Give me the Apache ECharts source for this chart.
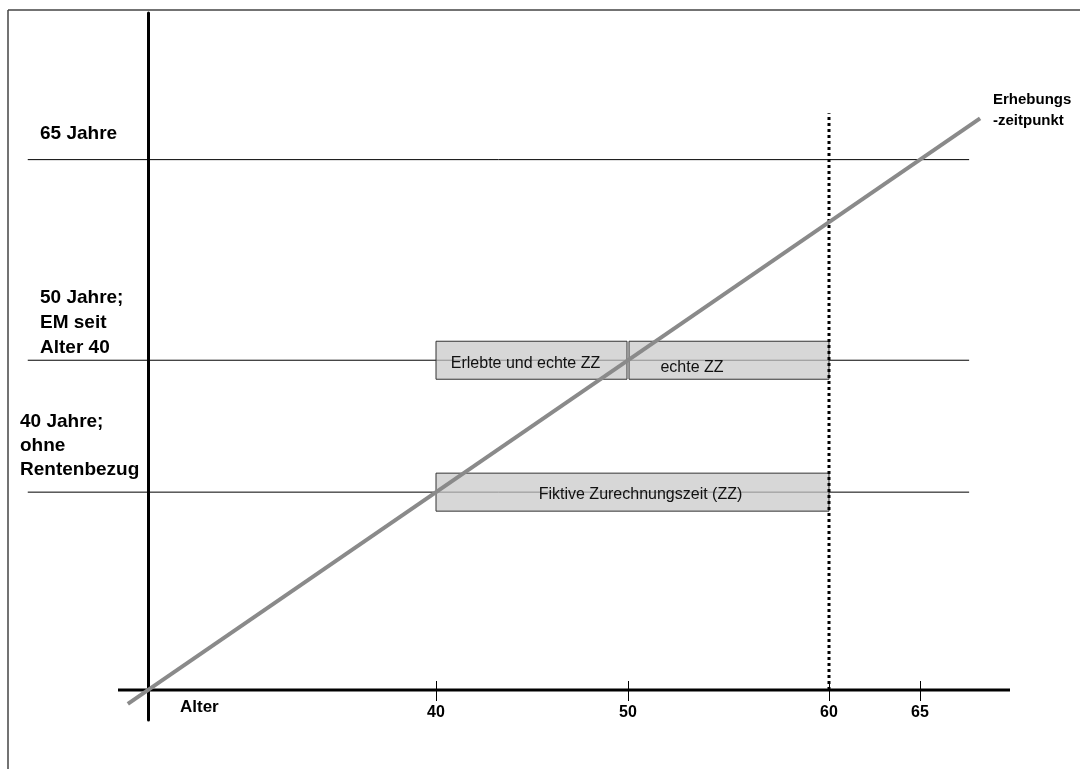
<!DOCTYPE html>
<html><head><meta charset="utf-8">
<script src="https://cdn.jsdelivr.net/npm/echarts@6/dist/echarts.min.js"></script>
<style>html,body{margin:0;padding:0;background:#fff}#c{width:1080px;height:769px}</style>
</head><body><div id="c"></div>
<script>
// ---- data (ages in years) ----
// schematic, non-linear age scale of the diagram: age -> position along axis
const AGE_KNOTS = [0, 40, 50, 60, 65];
const POS_KNOTS = [0, 288, 480, 681, 772];

const tickAges = [40, 50, 60, 65];
const tickLabels = ['40', '50', '60', '65'];
const rowAges = [65, 50, 40];
const rowLabels = ['65 Jahre', '50 Jahre;\nEM seit\nAlter 40', '40 Jahre;\nohne\nRentenbezug'];
const boxStart = [40, 50, 40];
const boxEnd = [50, 60, 60];
const boxRow = [50, 50, 40];
const boxLabels = ['Erlebte und echte ZZ', 'echte ZZ', 'Fiktive Zurechnungszeit (ZZ)'];
const surveyAge = 60;
const surveyLineTopAge = 68.7;
const surveyLabel = 'Erhebungs\n-zeitpunkt';
const diagonalAges = [-2.8, 68.3];
const rowLineAges = [-16.7, 67.7];
const axisName = 'Alter';

// ---- scale helper ----
function toPos(a) {
  const n = AGE_KNOTS.length;
  let i = 0;
  if (a >= AGE_KNOTS[n - 1]) i = n - 2;
  else if (a > AGE_KNOTS[0]) { while (a > AGE_KNOTS[i + 1]) i++; }
  const t = (a - AGE_KNOTS[i]) / (AGE_KNOTS[i + 1] - AGE_KNOTS[i]);
  return POS_KNOTS[i] + t * (POS_KNOTS[i + 1] - POS_KNOTS[i]);
}

// ---- layout / style ----
const Y_RATIO = 0.687;
const X_MIN = -128, X_MAX = 862;          // grid spans pixel 20 .. 1010
const X_AXIS_FROM = -30;                  // visible x-axis line starts here
const Y_MIN = -30 / Y_RATIO, Y_MAX = 677 / Y_RATIO;
const FONT = 'Liberation Sans, Arial, sans-serif';
const boxLabelDx = [-6, -37, 8];
const boxLabelDy = [3, 7, 2];

const tickPos = tickAges.map(toPos);
const labelMap = {};
tickPos.forEach((p, i) => { labelMap[Math.round(p * 100)] = tickLabels[i]; });

const chart = echarts.init(document.getElementById('c'), null, { renderer: 'canvas' });

const rowSeries = rowAges.map(r => ({
  type: 'line', silent: true, clip: false, symbol: 'none', z: 1,
  data: rowLineAges.map(a => [toPos(a), toPos(r)]),
  lineStyle: { color: '#000', width: 1 }
}));

const option = {
  backgroundColor: '#fff',
  animation: false,
  grid: { left: 20, right: 70, top: 13, bottom: 49, containLabel: false, outerBoundsMode: 'none' },
  xAxis: [{
    type: 'value', min: X_MIN, max: X_MAX, position: 'bottom',
    axisLine: { show: true, onZero: true, onZeroAxisIndex: 0, lineStyle: { color: '#000', width: 3, opacity: 0 } },
    axisTick: { show: true, customValues: tickPos, length: 11, lineStyle: { color: '#000', width: 1 } },
    axisLabel: {
      show: true, customValues: tickPos, margin: -15,
      fontFamily: FONT, fontSize: 16, fontWeight: 'bold', color: '#000',
      formatter: v => labelMap[Math.round(v * 100)] || ''
    },
    splitLine: { show: false }
  }, {
    type: 'value', min: X_MIN, max: X_MAX, position: 'top',
    axisLine: { show: true, onZero: true, onZeroAxisIndex: 0, lineStyle: { color: '#000', width: 3, opacity: 0 } },
    axisTick: { show: true, customValues: tickPos, length: 9, lineStyle: { color: '#000', width: 1 } },
    axisLabel: { show: false },
    splitLine: { show: false }
  }],
  yAxis: {
    type: 'value', min: Y_MIN, max: Y_MAX,
    axisLine: { show: true, onZero: true, onZeroAxisIndex: 0, lineStyle: { color: '#000', width: 3 } },
    axisTick: { show: false }, axisLabel: { show: false }, splitLine: { show: false }
  },
  series: [
    ...rowSeries,
    {
      type: 'line', silent: true, clip: false, symbol: 'none', z: 1,
      data: [[X_AXIS_FROM, 0], [X_MAX, 0]],
      lineStyle: { color: '#000', width: 3 }
    },
    {
      type: 'custom', silent: true, z: 2,
      data: boxLabels.map((l, i) => [boxStart[i], boxEnd[i], boxRow[i], i]),
      renderItem: (params, api) => {
        const s = api.value(0), e = api.value(1), r = api.value(2), i = api.value(3);
        const p1 = api.coord([toPos(s), toPos(r)]);
        const p2 = api.coord([toPos(e), toPos(r)]);
        const x1 = p1[0] + (i === 1 ? 1 : 0), x2 = p2[0] - (i === 0 ? 1 : 0);
        const h = 38;
        return {
          type: 'group',
          children: [{
            type: 'rect',
            shape: { x: x1, y: p1[1] - h / 2, width: x2 - x1, height: h },
            style: { fill: 'rgba(200,200,200,0.72)', stroke: '#333', lineWidth: 1 }
          }, {
            type: 'text',
            style: {
              x: (x1 + x2) / 2 + boxLabelDx[i], y: p1[1] + boxLabelDy[i],
              text: boxLabels[i], align: 'center', verticalAlign: 'middle',
              fontFamily: FONT, fontSize: 16, fill: '#111'
            }
          }]
        };
      }
    },
    {
      type: 'line', silent: true, clip: false, symbol: 'none', z: 3,
      data: [[toPos(surveyAge), 0], [toPos(surveyAge), toPos(surveyLineTopAge)]],
      lineStyle: { color: '#000', width: 3, type: [3, 3] }
    },
    {
      type: 'line', silent: true, clip: false, symbol: 'none', z: 4,
      data: diagonalAges.map(a => [toPos(a), toPos(a)]),
      lineStyle: { color: '#8a8a8a', width: 4 }
    }
  ],
  graphic: [
    { type: 'line', shape: { x1: 8, y1: 10, x2: 1080, y2: 10 }, style: { stroke: '#444', lineWidth: 1.5 }, silent: true },
    { type: 'line', shape: { x1: 8, y1: 10, x2: 8, y2: 769 }, style: { stroke: '#444', lineWidth: 1.5 }, silent: true },
    { type: 'text', left: 40, top: 121, style: { text: rowLabels[0], fontFamily: FONT, fontSize: 19, fontWeight: 'bold', fill: '#000', lineHeight: 25 } },
    { type: 'text', left: 40, top: 285, style: { text: rowLabels[1], fontFamily: FONT, fontSize: 19, fontWeight: 'bold', fill: '#000', lineHeight: 25 } },
    { type: 'text', left: 20, top: 410, style: { text: rowLabels[2], fontFamily: FONT, fontSize: 19, fontWeight: 'bold', fill: '#000', lineHeight: 24 } },
    { type: 'text', left: 993, top: 89, style: { text: surveyLabel, fontFamily: FONT, fontSize: 15, fontWeight: 'bold', fill: '#000', lineHeight: 21 } },
    { type: 'text', left: 180, top: 699, style: { text: axisName, fontFamily: FONT, fontSize: 17, fontWeight: 'bold', fill: '#000' } }
  ]
};
chart.setOption(option);
</script>
</body></html>
